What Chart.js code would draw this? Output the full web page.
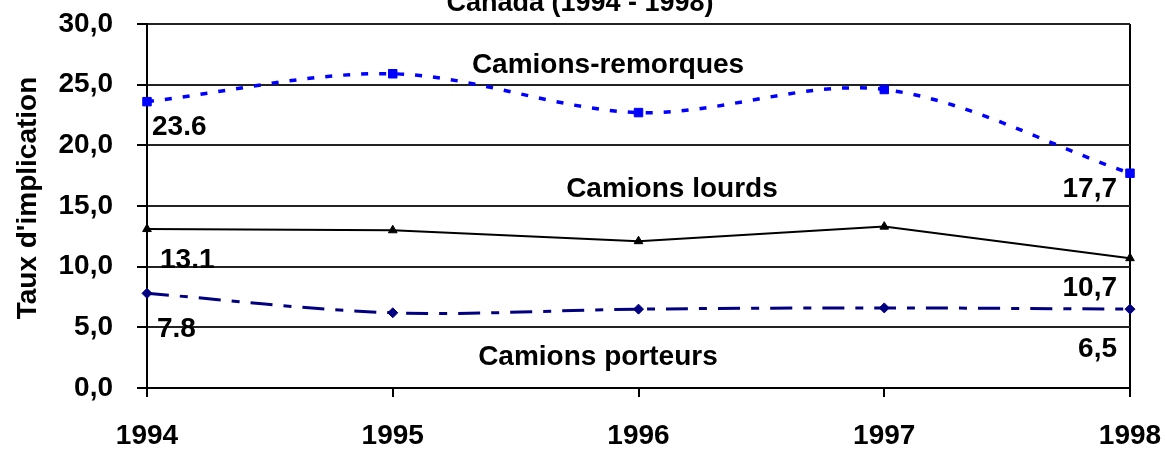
<!DOCTYPE html>
<html lang="fr">
<head>
<meta charset="utf-8">
<title>Taux d'implication - Canada (1994 - 1998)</title>
<script src="https://cdn.jsdelivr.net/npm/chart.js@4"></script>
<style>
    html, body { margin: 0; padding: 0; background: #fff; }
    #wrap { width: 1165px; height: 449px; }
</style>
</head>
<body>
<div id="wrap"><canvas id="tauxChart" width="1165" height="449"></canvas></div>
<script>
// Data
const years = ['1994', '1995', '1996', '1997', '1998'];
const remorques = [23.6, 25.9, 22.7, 24.6, 17.7];
const lourds = [13.1, 13.0, 12.1, 13.3, 10.7];
const porteurs = [7.8, 6.2, 6.5, 6.6, 6.5];
const yTicks = [0, 5, 10, 15, 20, 25, 30];

const seriesNames = ['Camions-remorques', 'Camions lourds', 'Camions porteurs'];
const chartTitle = 'Canada (1994 - 1998)';
const yTitle = "Taux d'implication";

const FONT = '"Liberation Sans", Arial, sans-serif';

// text that sits inside the plot: series names and end values
const annotations = {
    id: 'annotations',
    afterDraw(chart) {
        const ctx = chart.ctx;
        const xs = chart.scales.x;
        const ys = chart.scales.y;
        const px = i => xs.getPixelForValue(i);
        const py = v => ys.getPixelForValue(v);

        ctx.save();
        ctx.fillStyle = '#000';
        ctx.textBaseline = 'alphabetic';

        // title, cut off at the top edge
        ctx.font = 'bold 27px ' + FONT;
        ctx.textAlign = 'center';
        ctx.fillText(chartTitle, 580, 11);

        // series names
        ctx.font = 'bold 28px ' + FONT;
        ctx.fillText(seriesNames[0], px(1.876), py(26.0));
        ctx.fillText(seriesNames[1], px(2.136), py(15.74));
        ctx.fillText(seriesNames[2], px(1.835), py(1.9));

        // first / last values
        const last = years.length - 1;
        ctx.textAlign = 'left';
        ctx.fillText('23.6', px(0) + 5, py(remorques[0]) + 33);
        ctx.fillText('13.1', px(0) + 13, py(lourds[0]) + 39);
        ctx.fillText('7.8', px(0) + 10, py(porteurs[0]) + 44);
        ctx.textAlign = 'right';
        ctx.fillText('17,7', px(last) - 13, py(remorques[last]) + 24);
        ctx.fillText('10,7', px(last) - 13, py(lourds[last]) + 38);
        ctx.fillText('6,5', px(last) - 13, py(porteurs[last]) + 48);

        // y axis title
        ctx.translate(36, 198);
        ctx.rotate(-Math.PI / 2);
        ctx.textAlign = 'center';
        ctx.fillText(yTitle, 0, 0);
        ctx.restore();
    }
};

const ctx = document.getElementById('tauxChart').getContext('2d');

const tauxChart = new Chart(ctx, {
    type: 'line',
    data: {
        labels: years,
        datasets: [{
            label: seriesNames[0],
            data: remorques,
            borderColor: '#0000ff',
            backgroundColor: '#0000ff',
            borderWidth: 3.5,
            borderDash: [7, 11],
            tension: 0.33,
            pointStyle: 'rect',
            pointRadius: 6,
            pointBorderWidth: 1
        }, {
            label: seriesNames[1],
            data: lourds,
            borderColor: '#000000',
            backgroundColor: '#000000',
            borderWidth: 2,
            tension: 0,
            pointStyle: 'triangle',
            pointRadius: 5,
            pointBorderWidth: 1
        }, {
            label: seriesNames[2],
            data: porteurs,
            borderColor: '#000080',
            backgroundColor: '#000080',
            borderWidth: 3,
            borderDash: [22, 11, 8, 11],
            tension: 0.33,
            pointStyle: 'rectRot',
            pointRadius: 5,
            pointBorderWidth: 1
        }]
    },
    options: {
        responsive: false,
        animation: false,
        layout: {
            padding: { top: 24, right: 35, bottom: 0, left: 0 }
        },
        plugins: {
            legend: { display: false },
            title: { display: false },
            tooltip: { enabled: false }
        },
        scales: {
            x: {
                offset: false,
                afterFit: function (scale) {
                    scale.height = 61;
                    scale.paddingLeft = 0;
                    scale.paddingRight = 0;
                },
                border: { display: true, color: '#000', width: 2 },
                grid: {
                    drawOnChartArea: true,
                    color: function (c) { return c.index === years.length - 1 ? '#000' : 'rgba(0,0,0,0)'; },
                    tickColor: '#000',
                    lineWidth: 2,
                    tickLength: 9
                },
                ticks: {
                    color: '#000',
                    autoSkip: false,
                    maxRotation: 0,
                    padding: 22,
                    font: { family: FONT, size: 28, weight: 'bold' }
                }
            },
            y: {
                min: 0,
                max: 30,
                afterFit: function (scale) {
                    scale.width = 147;
                    scale.paddingTop = 0;
                    scale.paddingBottom = 0;
                },
                afterBuildTicks: function (scale) {
                    scale.ticks = yTicks.map(v => ({ value: v }));
                },
                border: { display: true, color: '#000', width: 2 },
                grid: {
                    color: '#222',
                    tickColor: '#000',
                    lineWidth: 2,
                    tickLength: 10
                },
                ticks: {
                    color: '#000',
                    padding: 24,
                    font: { family: FONT, size: 28, weight: 'bold' },
                    callback: function (value) {
                        return value.toFixed(1).replace('.', ',');
                    }
                }
            }
        }
    },
    plugins: [annotations]
});
</script>
</body>
</html>
